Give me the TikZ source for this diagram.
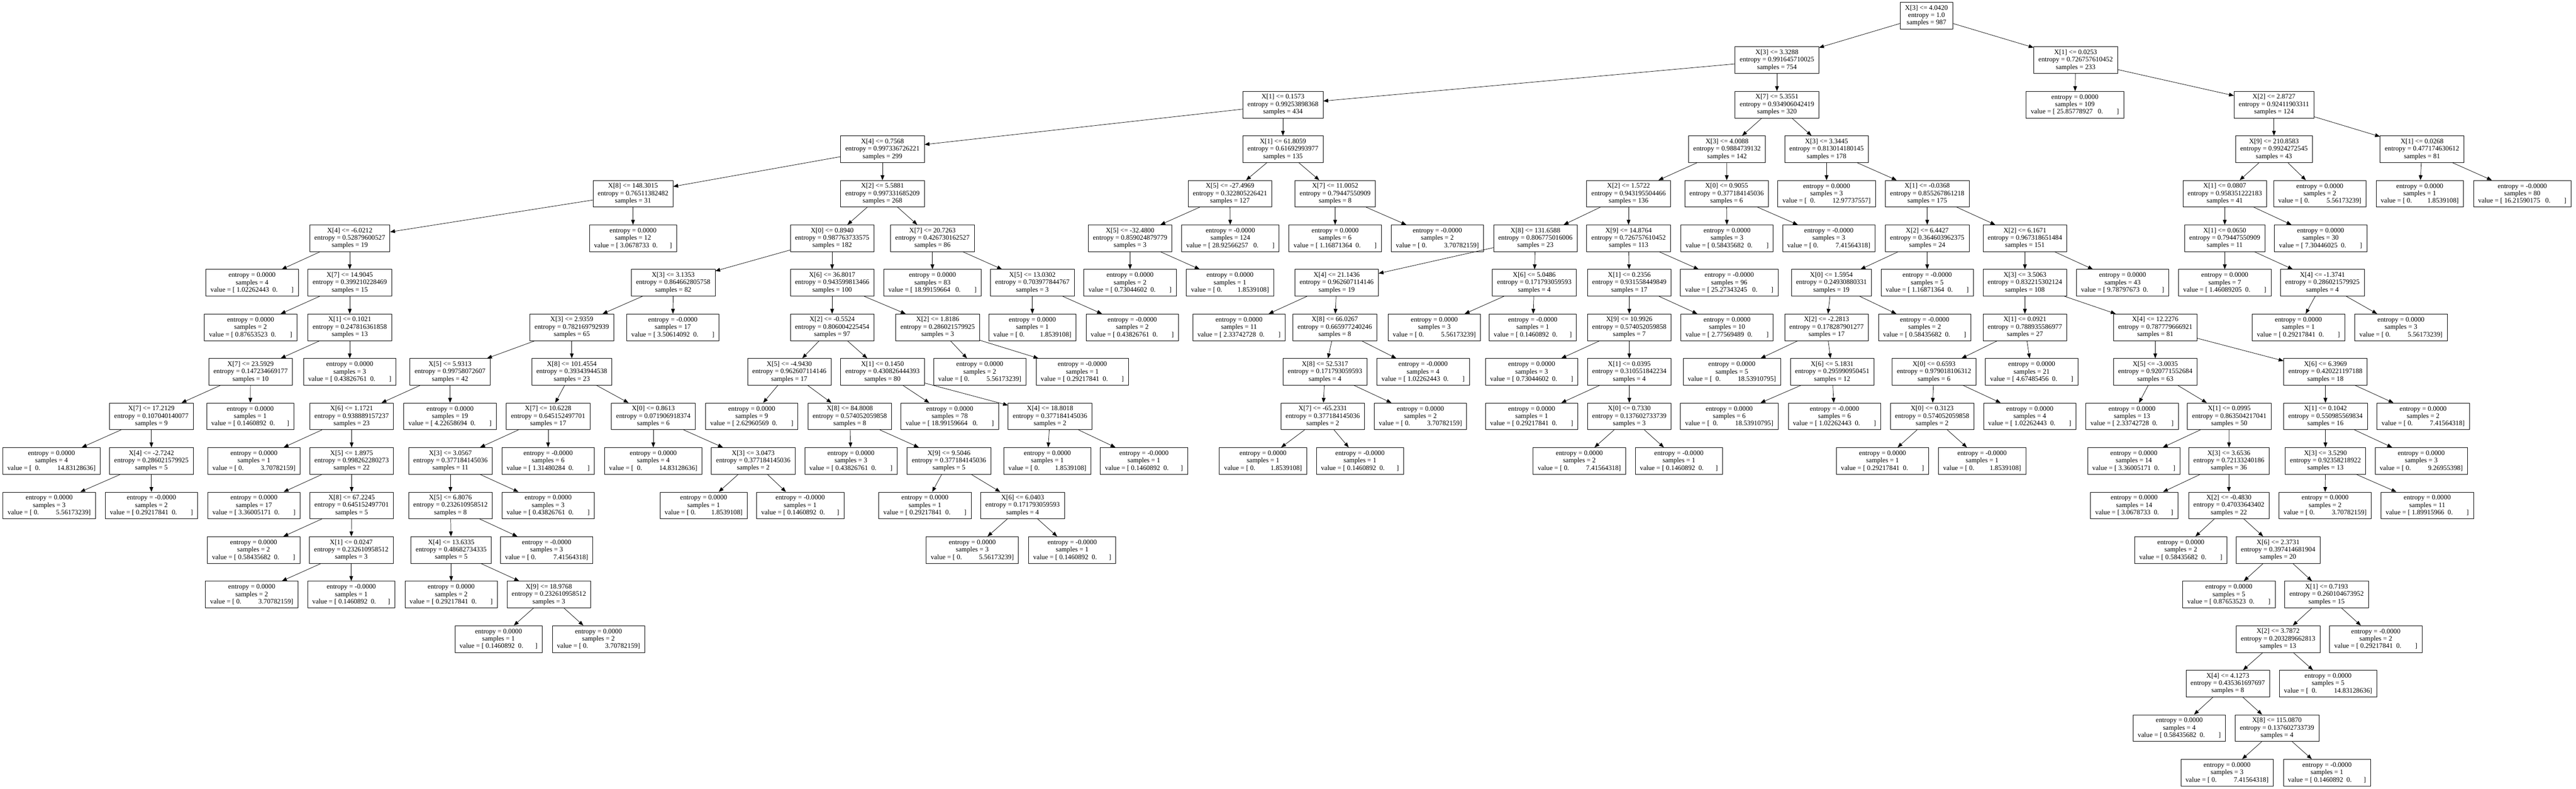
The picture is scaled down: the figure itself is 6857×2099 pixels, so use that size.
\documentclass[tikz,border=0pt]{standalone}
\usepackage{fontspec}
\setmainfont{Liberation Serif}
\usetikzlibrary{arrows.meta}
\newcommand{\treefont}{\fontsize{9.1}{9.85}\selectfont}
\newcommand{\spc}[1]{\hspace{#1\fontdimen2\font}}
\newcommand{\vA}[1]{value = [ #1\spc{3}0.\spc{8}]}
\newcommand{\vB}[1]{value = [ #1\spc{2}0.\spc{8}]}
\newcommand{\vC}[1]{value = [ #1\spc{2}0.\spc{7}]}
\newcommand{\vD}[1]{value = [ 0.\spc{10}#1]}
\newcommand{\vE}[1]{value = [ 0.\spc{9}#1]}
\newcommand{\vF}[1]{value = [\spc{2}0.\spc{10}#1]}
\newcommand{\inode}[6]{\node[box] (#1) at (#2,#3) {#4\\entropy = #5\\samples = #6};}
\newcommand{\lnode}[6]{\node[box] (#1) at (#2,#3) {entropy = #4\\samples = #5\\#6};}
\tikzset{
  box/.style={draw=black, rectangle, align=center, font=\treefont, inner xsep=6.25pt, inner ysep=0pt, minimum height=35.5pt, line width=0.5pt, fill=white},
  edge/.style={-{Triangle[length=6.5pt,width=5pt]}, line width=0.5pt, black}
}
\begin{document}
\begin{tikzpicture}[x=0.5pt,y=-0.5pt]
\fill[white] (0,0) rectangle (6857,2099);
\useasboundingbox (0,0) rectangle (6857,2099);
% level 0
\inode{r}{5128}{41.5}{X[3] <= 4.0420}{1.0}{987}
% level 1
\inode{a}{4730}{160}{X[3] <= 3.3288}{0.991645710025}{754}
\inode{b}{5525}{160}{X[1] <= 0.0253}{0.726757610452}{233}
% level 2
\inode{c}{3415}{278.5}{X[1] <= 0.1573}{0.99253898368}{434}
\inode{d}{4730}{278.5}{X[7] <= 5.3551}{0.934906042419}{320}
\lnode{bl}{5523}{278.5}{0.0000}{109}{\vA{25.85778927}}
\inode{e}{6053}{278.5}{X[2] <= 2.8727}{0.92411903311}{124}
% level 3
\inode{f}{2349}{397}{X[4] <= 0.7568}{0.997336726221}{299}
\inode{g}{3415}{397}{X[1] <= 61.8059}{0.61692993977}{135}
\inode{h}{4597}{397}{X[3] <= 4.0088}{0.9884739132}{142}
\inode{i}{4862}{397}{X[3] <= 3.3445}{0.813014180145}{178}
\inode{j}{6053}{397}{X[9] <= 210.8583}{0.9924272545}{43}
\inode{k}{6447}{397}{X[1] <= 0.0268}{0.477174630612}{81}
% level 4
\inode{f1}{1685}{515.5}{X[8] <= 148.3015}{0.76511382482}{31}
\inode{f2}{2349}{515.5}{X[2] <= 5.5881}{0.997331685209}{268}
\inode{g1}{3274}{515.5}{X[5] <= -27.4969}{0.322805226421}{127}
\inode{g2}{3554}{515.5}{X[7] <= 11.0052}{0.79447550909}{8}
\inode{h1}{4335}{515.5}{X[2] <= 1.5722}{0.943195504466}{136}
\inode{h2}{4596}{515.5}{X[0] <= 0.9055}{0.377184145036}{6}
\lnode{i1}{4862}{515.5}{0.0000}{3}{\vF{12.97737557}}
\inode{i2}{5130}{515.5}{X[1] <= -0.0368}{0.855267861218}{175}
\inode{j1}{5922}{515.5}{X[1] <= 0.0807}{0.958351222183}{41}
\lnode{j2}{6175}{515.5}{0.0000}{2}{\vD{5.56173239}}
\lnode{k1}{6441}{515.5}{0.0000}{1}{\vE{1.8539108}}
\lnode{k2}{6714}{515.5}{-0.0000}{80}{\vA{16.21590175}}
% level 5
\inode{f1a}{931}{634}{X[4] <= -6.0212}{0.52879600527}{19}
\lnode{f1b}{1685}{634}{0.0000}{12}{\vC{3.0678733}}
\inode{f2a}{2215}{634}{X[0] <= 0.8940}{0.987763733575}{182}
\inode{f2b}{2482}{634}{X[7] <= 20.7263}{0.426730162527}{86}
\inode{g1a}{3008}{634}{X[5] <= -32.4800}{0.859024879779}{3}
\lnode{g1b}{3275}{634}{-0.0000}{124}{\vA{28.92566257}}
\lnode{g2a}{3554}{634}{0.0000}{6}{\vB{1.16871364}}
\lnode{g2b}{3826}{634}{-0.0000}{2}{\vD{3.70782159}}
\inode{h1a}{4087}{634}{X[8] <= 131.6588}{0.806775016006}{23}
\inode{h1b}{4335}{634}{X[9] <= 14.8764}{0.726757610452}{113}
\lnode{h2a}{4597}{634}{0.0000}{3}{\vB{0.58435682}}
\lnode{h2b}{4868}{634}{-0.0000}{3}{\vD{7.41564318}}
\inode{i2a}{5130}{634}{X[2] <= 6.4427}{0.364603962375}{24}
\inode{i2b}{5390}{634}{X[2] <= 6.1671}{0.967318651484}{151}
\inode{j1a}{5922}{634}{X[1] <= 0.0650}{0.79447550909}{11}
\lnode{j1b}{6177}{634}{0.0000}{30}{\vB{7.30446025}}
% level 6
\lnode{m1}{671}{752.5}{0.0000}{4}{\vB{1.02262443}}
\inode{m2}{931}{752.5}{X[7] <= 14.9045}{0.399210228469}{15}
\inode{m3}{1792}{752.5}{X[3] <= 3.1353}{0.864662805758}{82}
\inode{m4}{2215}{752.5}{X[6] <= 36.8017}{0.943599813466}{100}
\lnode{m5}{2482}{752.5}{0.0000}{83}{\vA{18.99159664}}
\inode{m6}{2748}{752.5}{X[5] <= 13.0302}{0.703977844767}{3}
\lnode{m7}{3008}{752.5}{0.0000}{2}{\vB{0.73044602}}
\lnode{m8}{3274}{752.5}{0.0000}{1}{\vE{1.8539108}}
\inode{m9}{3558}{752.5}{X[4] <= 21.1436}{0.962607114146}{19}
\inode{m10}{4084}{752.5}{X[6] <= 5.0486}{0.171793059593}{4}
\inode{m11}{4337}{752.5}{X[1] <= 0.2356}{0.931558449849}{17}
\lnode{m12}{4603}{752.5}{-0.0000}{96}{\vA{25.27343245}}
\inode{m13}{4875}{752.5}{X[0] <= 1.5954}{0.24930880331}{19}
\lnode{m14}{5130}{752.5}{-0.0000}{5}{\vB{1.16871364}}
\inode{m15}{5390}{752.5}{X[3] <= 3.5063}{0.832215302124}{108}
\lnode{m16}{5650}{752.5}{0.0000}{43}{\vB{9.78797673}}
\lnode{m17}{5922}{752.5}{0.0000}{7}{\vB{1.46089205}}
\inode{m18}{6182}{752.5}{X[4] <= -1.3741}{0.286021579925}{4}
% level 7
\lnode{p1}{667}{871}{0.0000}{2}{\vB{0.87653523}}
\inode{p2}{931}{871}{X[1] <= 0.1021}{0.247816361858}{13}
\inode{p3}{1522}{871}{X[3] <= 2.9359}{0.782169792939}{65}
\lnode{p4}{1791}{871}{-0.0000}{17}{\vB{3.50614092}}
\inode{p5}{2215}{871}{X[2] <= -0.5524}{0.806004225454}{97}
\inode{p6}{2496}{871}{X[2] <= 1.8186}{0.286021579925}{3}
\lnode{p7}{2748}{871}{0.0000}{1}{\vE{1.8539108}}
\lnode{p8}{3014}{871}{-0.0000}{2}{\vB{0.43826761}}
\lnode{p9}{3298}{871}{0.0000}{11}{\vB{2.33742728}}
\inode{p10}{3553}{871}{X[8] <= 66.0267}{0.665977240246}{8}
\lnode{p11}{3818}{871}{0.0000}{3}{\vD{5.56173239}}
\lnode{p12}{4080}{871}{-0.0000}{1}{\vC{0.1460892}}
\inode{p13}{4337}{871}{X[9] <= 10.9926}{0.574052059858}{7}
\lnode{p14}{4597}{871}{0.0000}{10}{\vB{2.77569489}}
\inode{p15}{4862}{871}{X[2] <= -2.2813}{0.178287901277}{17}
\lnode{p16}{5123}{871}{-0.0000}{2}{\vB{0.58435682}}
\inode{p17}{5390}{871}{X[1] <= 0.0921}{0.788935586977}{27}
\inode{p18}{5737}{871}{X[4] <= 12.2276}{0.787779666921}{81}
\lnode{p19}{6118}{871}{0.0000}{1}{\vB{0.29217841}}
\lnode{p20}{6391}{871}{0.0000}{3}{\vD{5.56173239}}
% level 8
\inode{q1}{667}{989.5}{X[7] <= 23.5929}{0.147234669177}{10}
\lnode{q2}{931}{989.5}{0.0000}{3}{\vB{0.43826761}}
\inode{q3}{1198}{989.5}{X[5] <= 5.9313}{0.99758072607}{42}
\inode{q4}{1522}{989.5}{X[8] <= 101.4554}{0.39343944538}{23}
\inode{q5}{2101}{989.5}{X[5] <= -4.9430}{0.962607114146}{17}
\inode{q6}{2349}{989.5}{X[1] <= 0.1450}{0.430826444393}{80}
\lnode{q7}{2608}{989.5}{0.0000}{2}{\vD{5.56173239}}
\lnode{q8}{2881}{989.5}{-0.0000}{1}{\vB{0.29217841}}
\inode{q9}{3527}{989.5}{X[8] <= 52.5317}{0.171793059593}{4}
\lnode{q10}{3788}{989.5}{-0.0000}{4}{\vB{1.02262443}}
\lnode{q11}{4077}{989.5}{0.0000}{3}{\vB{0.73044602}}
\inode{q12}{4337}{989.5}{X[1] <= 0.0395}{0.310551842234}{4}
\lnode{q13}{4610}{989.5}{0.0000}{5}{\vF{18.53910795}}
\inode{q14}{4877}{989.5}{X[6] <= 5.1831}{0.295990950451}{12}
\inode{q15}{5148}{989.5}{X[0] <= 0.6593}{0.979018106312}{6}
\lnode{q16}{5408}{989.5}{0.0000}{21}{\vB{4.67485456}}
\inode{q17}{5737}{989.5}{X[5] <= -3.0035}{0.920771552684}{63}
\inode{q18}{6190}{989.5}{X[6] <= 6.3969}{0.420221197188}{18}
% level 9
\inode{s1}{403}{1108}{X[7] <= 17.2129}{0.107040140077}{9}
\lnode{s2}{666}{1108}{0.0000}{1}{\vC{0.1460892}}
\inode{s3}{936}{1108}{X[6] <= 1.1721}{0.938889157237}{23}
\lnode{s4}{1198}{1108}{0.0000}{19}{\vB{4.22658694}}
\inode{s5}{1459}{1108}{X[7] <= 10.6228}{0.645152497701}{17}
\inode{s6}{1739}{1108}{X[0] <= 0.8613}{0.071906918374}{6}
\lnode{s7}{2001}{1108}{0.0000}{9}{\vB{2.62960569}}
\inode{s8}{2262}{1108}{X[8] <= 84.8008}{0.574052059858}{8}
\lnode{s9}{2528}{1108}{0.0000}{78}{\vA{18.99159664}}
\inode{s10}{2795}{1108}{X[4] <= 18.8018}{0.377184145036}{2}
\inode{s11}{3521}{1108}{X[7] <= -65.2331}{0.377184145036}{2}
\lnode{s12}{3781}{1108}{0.0000}{2}{\vD{3.70782159}}
\lnode{s13}{4077}{1108}{0.0000}{1}{\vB{0.29217841}}
\inode{s14}{4337}{1108}{X[0] <= 0.7330}{0.137602733739}{3}
\lnode{s15}{4603}{1108}{0.0000}{6}{\vF{18.53910795}}
\lnode{s16}{4883}{1108}{-0.0000}{6}{\vB{1.02262443}}
\inode{s17}{5143}{1108}{X[0] <= 0.3123}{0.574052059858}{2}
\lnode{s18}{5403}{1108}{0.0000}{4}{\vB{1.02262443}}
\lnode{s19}{5675}{1108}{0.0000}{13}{\vB{2.33742728}}
\inode{s20}{5934}{1108}{X[1] <= 0.0995}{0.863504217041}{50}
\inode{s21}{6190}{1108}{X[1] <= 0.1042}{0.550985569834}{16}
\lnode{s22}{6450}{1108}{0.0000}{2}{\vD{7.41564318}}
% level 10
\lnode{t1}{137}{1226.5}{0.0000}{4}{\vF{14.83128636}}
\inode{t2}{403}{1226.5}{X[4] <= -2.7242}{0.286021579925}{5}
\lnode{t3}{676}{1226.5}{0.0000}{1}{\vD{3.70782159}}
\inode{t4}{936}{1226.5}{X[5] <= 1.8975}{0.998262280273}{22}
\inode{t5}{1199}{1226.5}{X[3] <= 3.0567}{0.377184145036}{11}
\lnode{t6}{1459}{1226.5}{-0.0000}{6}{\vB{1.31480284}}
\lnode{t7}{1739}{1226.5}{0.0000}{4}{\vF{14.83128636}}
\inode{t8}{2005}{1226.5}{X[3] <= 3.0473}{0.377184145036}{2}
\lnode{t9}{2265}{1226.5}{0.0000}{3}{\vB{0.43826761}}
\inode{t10}{2526}{1226.5}{X[9] <= 9.5046}{0.377184145036}{5}
\lnode{t11}{2788}{1226.5}{0.0000}{1}{\vE{1.8539108}}
\lnode{t12}{3045}{1226.5}{-0.0000}{1}{\vC{0.1460892}}
\lnode{t13}{3362}{1226.5}{0.0000}{1}{\vE{1.8539108}}
\lnode{t14}{3620}{1226.5}{-0.0000}{1}{\vC{0.1460892}}
\lnode{t15}{4204}{1226.5}{0.0000}{2}{\vD{7.41564318}}
\lnode{t16}{4469}{1226.5}{-0.0000}{1}{\vC{0.1460892}}
\lnode{t17}{5011}{1226.5}{0.0000}{1}{\vB{0.29217841}}
\lnode{t18}{5276}{1226.5}{-0.0000}{1}{\vE{1.8539108}}
\lnode{t19}{5680}{1226.5}{0.0000}{14}{\vB{3.36005171}}
\inode{t20}{5933}{1226.5}{X[3] <= 3.6536}{0.72133240186}{36}
\inode{t21}{6190}{1226.5}{X[3] <= 3.5290}{0.92358218922}{13}
\lnode{t22}{6445}{1226.5}{0.0000}{3}{\vD{9.26955398}}
% level 11
\lnode{u1}{131}{1345}{0.0000}{3}{\vD{5.56173239}}
\lnode{u2}{403}{1345}{-0.0000}{2}{\vB{0.29217841}}
\lnode{u3}{676}{1345}{0.0000}{17}{\vB{3.36005171}}
\inode{u4}{936}{1345}{X[8] <= 67.2245}{0.645152497701}{5}
\inode{u5}{1199}{1345}{X[5] <= 6.8076}{0.232610958512}{8}
\lnode{u6}{1459}{1345}{0.0000}{3}{\vB{0.43826761}}
\lnode{u7}{1873}{1345}{0.0000}{1}{\vE{1.8539108}}
\lnode{u8}{2130}{1345}{-0.0000}{1}{\vC{0.1460892}}
\lnode{u9}{2462}{1345}{0.0000}{1}{\vB{0.29217841}}
\inode{u10}{2722}{1345}{X[6] <= 6.0403}{0.171793059593}{4}
\lnode{u11}{5681}{1345}{0.0000}{14}{\vC{3.0678733}}
\inode{u12}{5933}{1345}{X[2] <= -0.4830}{0.47033643402}{22}
\lnode{u13}{6189}{1345}{0.0000}{2}{\vD{3.70782159}}
\lnode{u14}{6461}{1345}{0.0000}{11}{\vB{1.89915966}}
% level 12
\lnode{v1}{675}{1463.5}{0.0000}{2}{\vB{0.58435682}}
\inode{v2}{935}{1463.5}{X[1] <= 0.0247}{0.232610958512}{3}
\inode{v3}{1201}{1463.5}{X[4] <= 13.6335}{0.48682734335}{5}
\lnode{v4}{1455}{1463.5}{-0.0000}{3}{\vD{7.41564318}}
\lnode{v5}{2588}{1463.5}{0.0000}{3}{\vD{5.56173239}}
\lnode{v6}{2854}{1463.5}{-0.0000}{1}{\vC{0.1460892}}
\lnode{v7}{5805}{1463.5}{0.0000}{2}{\vB{0.58435682}}
\inode{v8}{6064}{1463.5}{X[6] <= 2.3731}{0.397414681904}{20}
% level 13
\lnode{w1}{670}{1582}{0.0000}{2}{\vD{3.70782159}}
\lnode{w2}{935}{1582}{-0.0000}{1}{\vC{0.1460892}}
\lnode{w3}{1201}{1582}{0.0000}{2}{\vB{0.29217841}}
\inode{w4}{1461}{1582}{X[9] <= 18.9768}{0.232610958512}{3}
\lnode{w5}{5933}{1582}{0.0000}{5}{\vB{0.87653523}}
\inode{w6}{6193}{1582}{X[1] <= 0.7193}{0.260104673952}{15}
% level 14
\lnode{x1}{1327}{1700.5}{0.0000}{1}{\vC{0.1460892}}
\lnode{x2}{1593}{1700.5}{0.0000}{2}{\vD{3.70782159}}
\inode{x3}{6064}{1700.5}{X[2] <= 3.7872}{0.203289662813}{13}
\lnode{x4}{6324}{1700.5}{-0.0000}{2}{\vB{0.29217841}}
% level 15
\inode{y1}{5930}{1819}{X[4] <= 4.1273}{0.435361697697}{8}
\lnode{y2}{6197}{1819}{0.0000}{5}{\vF{14.83128636}}
% level 16
\lnode{z1}{5801}{1937.5}{0.0000}{4}{\vB{0.58435682}}
\inode{z2}{6061}{1937.5}{X[8] <= 115.0870}{0.137602733739}{4}
% level 17
\lnode{aa1}{5928}{2056}{0.0000}{3}{\vD{7.41564318}}
\lnode{aa2}{6194}{2056}{-0.0000}{1}{\vC{0.1460892}}
% edges
\foreach \p/\c in {r/a,r/b,a/c,a/d,b/bl,b/e,
  c/f,c/g,d/h,d/i,e/j,e/k,
  f/f1,f/f2,g/g1,g/g2,h/h1,h/h2,i/i1,i/i2,j/j1,j/j2,k/k1,k/k2,
  f1/f1a,f1/f1b,f2/f2a,f2/f2b,g1/g1a,g1/g1b,g2/g2a,g2/g2b,h1/h1a,h1/h1b,h2/h2a,h2/h2b,i2/i2a,i2/i2b,j1/j1a,j1/j1b,
  f1a/m1,f1a/m2,f2a/m3,f2a/m4,f2b/m5,f2b/m6,g1a/m7,g1a/m8,h1a/m9,h1a/m10,h1b/m11,h1b/m12,i2a/m13,i2a/m14,i2b/m15,i2b/m16,j1a/m17,j1a/m18,
  m2/p1,m2/p2,m3/p3,m3/p4,m4/p5,m4/p6,m6/p7,m6/p8,m9/p9,m9/p10,m10/p11,m10/p12,m11/p13,m11/p14,m13/p15,m13/p16,m15/p17,m15/p18,m18/p19,m18/p20,
  p2/q1,p2/q2,p3/q3,p3/q4,p5/q5,p5/q6,p6/q7,p6/q8,p10/q9,p10/q10,p13/q11,p13/q12,p15/q13,p15/q14,p17/q15,p17/q16,p18/q17,p18/q18,
  q1/s1,q1/s2,q3/s3,q3/s4,q4/s5,q4/s6,q5/s7,q5/s8,q6/s9,q6/s10,q9/s11,q9/s12,q12/s13,q12/s14,q14/s15,q14/s16,q15/s17,q15/s18,q17/s19,q17/s20,q18/s21,q18/s22,
  s1/t1,s1/t2,s3/t3,s3/t4,s5/t5,s5/t6,s6/t7,s6/t8,s8/t9,s8/t10,s10/t11,s10/t12,s11/t13,s11/t14,s14/t15,s14/t16,s17/t17,s17/t18,s20/t19,s20/t20,s21/t21,s21/t22,
  t2/u1,t2/u2,t4/u3,t4/u4,t5/u5,t5/u6,t8/u7,t8/u8,t10/u9,t10/u10,t20/u11,t20/u12,t21/u13,t21/u14,
  u4/v1,u4/v2,u5/v3,u5/v4,u10/v5,u10/v6,u12/v7,u12/v8,
  v2/w1,v2/w2,v3/w3,v3/w4,v8/w5,v8/w6,
  w4/x1,w4/x2,w6/x3,w6/x4,
  x3/y1,x3/y2,y1/z1,y1/z2,z2/aa1,z2/aa2}
  \draw[edge] (\p) -- (\c);
\end{tikzpicture}
\end{document}
